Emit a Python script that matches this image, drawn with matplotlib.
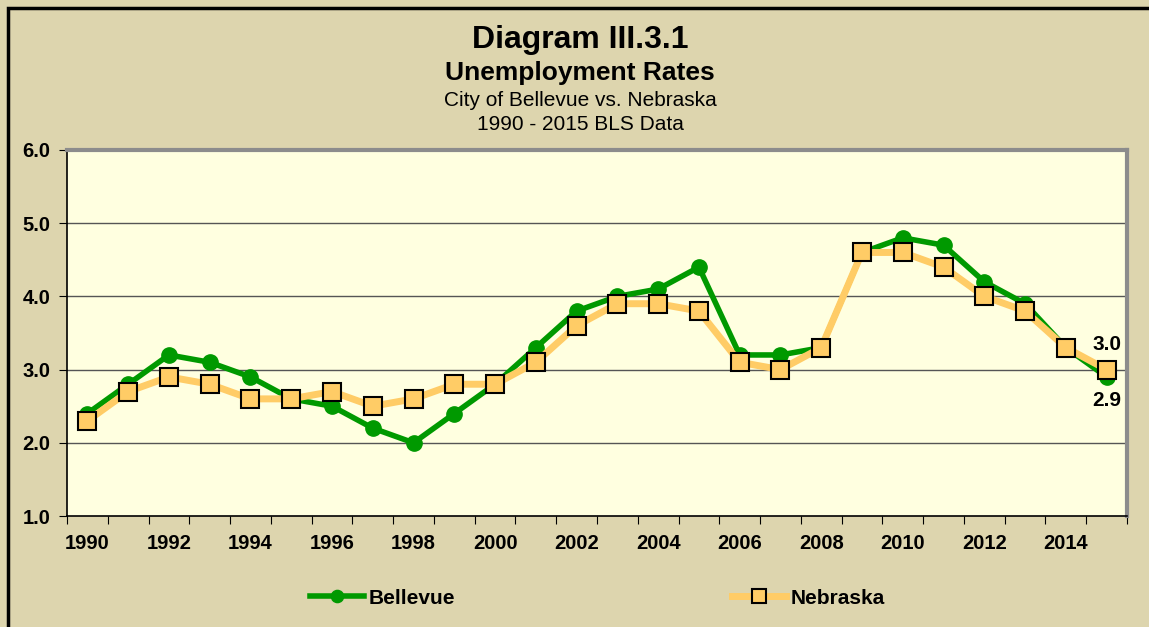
import matplotlib
matplotlib.use("Agg")
from matplotlib import pyplot as plt
from matplotlib.patches import Rectangle

years = list(range(1990, 2016))
bellevue = [2.4, 2.8, 3.2, 3.1, 2.9, 2.6, 2.5, 2.2, 2.0, 2.4, 2.8, 3.3, 3.8,
            4.0, 4.1, 4.4, 3.2, 3.2, 3.3, 4.6, 4.8, 4.7, 4.2, 3.9, 3.3, 2.9]
nebraska = [2.3, 2.7, 2.9, 2.8, 2.6, 2.6, 2.7, 2.5, 2.6, 2.8, 2.8, 3.1, 3.6,
            3.9, 3.9, 3.8, 3.1, 3.0, 3.3, 4.6, 4.6, 4.4, 4.0, 3.8, 3.3, 3.0]
yticks = [1.0, 2.0, 3.0, 4.0, 5.0, 6.0]

plt.rcParams['font.family'] = ['Liberation Sans', 'DejaVu Sans']

W, H = 1149, 627
fig = plt.figure(figsize=(W / 100, H / 100), dpi=100)
fig.patch.set_facecolor('#DDD5AE')

# outer frame (only left/top visible in the crop)
fig.add_artist(Rectangle((8 / W, -0.1), 1.2, 1 - 8 / H + 0.1, transform=fig.transFigure,
                         fill=False, edgecolor='black', linewidth=2.5))

ax = fig.add_axes([67 / W, 1 - 516 / H, (1127 - 67) / W, (516 - 150) / H])
ax.set_facecolor('#FFFFE0')

x = list(range(len(years)))
ax.plot(x, bellevue, color='#009900', linewidth=4, marker='o', markersize=11,
        markerfacecolor='#009900', markeredgecolor='#009900', label='Bellevue', zorder=3)
ax.plot(x, nebraska, color='#FFCC66', linewidth=5, marker='s', markersize=13,
        markerfacecolor='#FFCC66', markeredgecolor='black', markeredgewidth=1.5,
        label='Nebraska', zorder=4)

ax.set_xlim(-0.5, len(years) - 0.5)
ax.set_ylim(1.0, 6.0)
ax.set_yticks(yticks)
ax.set_yticklabels([f"{v:.1f}" for v in yticks], fontsize=14.5, fontweight='bold')
ax.set_xticks([i - 0.5 for i in range(len(years) + 1)])
ax.set_xticklabels([])
ax.set_xticks(x[::2], minor=True)
ax.set_xticklabels([str(y) for y in years[::2]], minor=True, fontsize=14.5, fontweight='bold')
ax.tick_params(axis='x', which='major', length=6, direction='out', color='black')
ax.tick_params(axis='x', which='minor', length=0, pad=13)
ax.tick_params(axis='y', length=6, direction='out', pad=6)
for v in yticks[1:-1]:
    ax.axhline(v, color='#555555', linewidth=1, zorder=1)

ax.spines['left'].set_color('black')
ax.spines['bottom'].set_color('black')
ax.spines['left'].set_linewidth(1.2)
ax.spines['bottom'].set_linewidth(1.2)
ax.spines['top'].set_color('#8C8C8C')
ax.spines['right'].set_color('#8C8C8C')
ax.spines['top'].set_linewidth(3)
ax.spines['right'].set_linewidth(3)

ax.annotate(f"{nebraska[-1]:.1f}", (x[-1], nebraska[-1]), xytext=(0, 11),
            textcoords='offset points', ha='center', va='bottom', fontsize=15, fontweight='bold')
ax.annotate(f"{bellevue[-1]:.1f}", (x[-1], bellevue[-1]), xytext=(0, -10),
            textcoords='offset points', ha='center', va='top', fontsize=15, fontweight='bold')

cx = 580 / W
fig.text(cx, 1 - 40 / H, "Diagram III.3.1", ha='center', va='center', fontsize=23, fontweight='bold')
fig.text(cx, 1 - 73 / H, "Unemployment Rates", ha='center', va='center', fontsize=19, fontweight='bold')
fig.text(cx, 1 - 101 / H, "City of Bellevue vs. Nebraska", ha='center', va='center', fontsize=15)
fig.text(cx, 1 - 125 / H, "1990 - 2015 BLS Data", ha='center', va='center', fontsize=15)

leg = fig.legend(loc='center', bbox_to_anchor=(0.52, 1 - 598 / H), ncol=2, frameon=False,
                 prop={'size': 15, 'weight': 'bold'}, handlelength=2.6, handletextpad=0.2,
                 columnspacing=13.3, markerscale=0.8)

fig.savefig('out.png', dpi=100, facecolor=fig.get_facecolor())
